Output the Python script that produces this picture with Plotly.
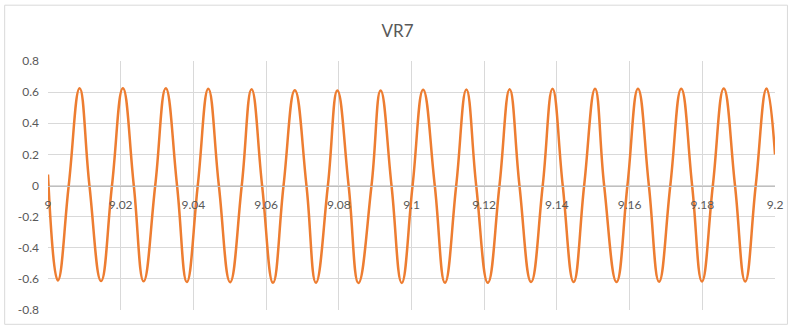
import plotly.graph_objects as go

title_text = "VR7"

# Waveform key points (time in s, value)
start_t = [9.0]
start_v = [0.07]
end_t = [9.2]
end_v = [0.2]

peak_t = [9.0087, 9.0206, 9.0324, 9.0441, 9.0560, 9.0679, 9.0796, 9.0915, 9.1032,
          9.1151, 9.1270, 9.1388, 9.1505, 9.1623, 9.1742, 9.1859, 9.1977]
peak_v = [0.625, 0.625, 0.625, 0.622, 0.618, 0.612, 0.610, 0.610, 0.616,
          0.617, 0.618, 0.621, 0.622, 0.622, 0.622, 0.623, 0.623]

trough_t = [9.0027, 9.0146, 9.0263, 9.0382, 9.0501, 9.0619, 9.0737, 9.0854, 9.0973,
            9.1092, 9.1210, 9.1329, 9.1446, 9.1564, 9.1681, 9.1799, 9.1918]
trough_v = [-0.610, -0.614, -0.616, -0.620, -0.621, -0.625, -0.625, -0.626, -0.626,
            -0.625, -0.625, -0.620, -0.620, -0.620, -0.618, -0.617, -0.617]

cross_t = [9.0057, 9.0114, 9.0176, 9.0236, 9.0295, 9.0355, 9.0412, 9.0470, 9.0533,
           9.0589, 9.0648, 9.0711, 9.0770, 9.0827, 9.0890, 9.0945, 9.1003, 9.1064,
           9.1123, 9.1178, 9.1242, 9.1297, 9.1361, 9.1416, 9.1475, 9.1530, 9.1594,
           9.1653, 9.1712, 9.1772, 9.1829, 9.1890, 9.1947]
cross_v = [0.0] * len(cross_t)

x_tickvals = [9.0, 9.02, 9.04, 9.06, 9.08, 9.1, 9.12, 9.14, 9.16, 9.18, 9.2]
x_ticktext = ["9", "9.02", "9.04", "9.06", "9.08", "9.1", "9.12", "9.14", "9.16", "9.18", "9.2"]
y_tickvals = [-0.8, -0.6, -0.4, -0.2, 0, 0.2, 0.4, 0.6, 0.8]
y_ticktext = ["-0.8", "-0.6", "-0.4", "-0.2", "0", "0.2", "0.4", "0.6", "0.8"]

pts = sorted(zip(start_t + peak_t + trough_t + cross_t + end_t,
                 start_v + peak_v + trough_v + cross_v + end_v))
t = [p[0] for p in pts]
v = [p[1] for p in pts]

FONT = "Lato, 'Open Sans', sans-serif"
TXT = "#595959"
GRID = "#D9D9D9"

fig = go.Figure()
fig.add_trace(go.Scatter(x=t, y=v, mode="lines",
                         line=dict(color="#ED7D31", width=2.5, shape="spline", smoothing=1.3),
                         showlegend=False, hoverinfo="x+y"))

W, H = 795, 329
ml, mr, mt, mb = 48, 17, 61, 16
pw, ph = W - ml - mr, H - mt - mb

def px_x(p):
    return (p - ml) / pw

def px_y(p):
    return (H - mb - p) / ph

fig.update_layout(
    width=W, height=H,
    margin=dict(l=ml, r=mr, t=mt, b=mb),
    paper_bgcolor="white", plot_bgcolor="white",
    title=dict(text=title_text, x=0.5, xref="container", xanchor="center",
               y=1 - 31 / H, yref="container", yanchor="middle",
               font=dict(family=FONT, size=17, color=TXT)),
    xaxis=dict(range=[9.0, 9.2], tickvals=x_tickvals, ticktext=x_ticktext,
               showgrid=True, gridcolor=GRID, gridwidth=1,
               anchor="free", position=0.5,
               showline=True, linecolor="#BFBFBF", linewidth=1,
               zeroline=False, ticks="", ticklabelstandoff=8,
               tickfont=dict(family=FONT, size=12, color=TXT)),
    yaxis=dict(range=[-0.8, 0.8], tickvals=y_tickvals, ticktext=y_ticktext,
               showgrid=True, gridcolor=GRID, gridwidth=1,
               zeroline=False, showline=False, ticks="",
               ticklabelstandoff=8,
               tickfont=dict(family=FONT, size=12, color=TXT)),
    shapes=[dict(type="rect", xref="paper", yref="paper",
                 x0=px_x(4.5), x1=px_x(790.5), y0=px_y(327.5), y1=px_y(4.5),
                 line=dict(color=GRID, width=1), fillcolor="rgba(0,0,0,0)", layer="below")],
)

fig.write_html("out.html")
